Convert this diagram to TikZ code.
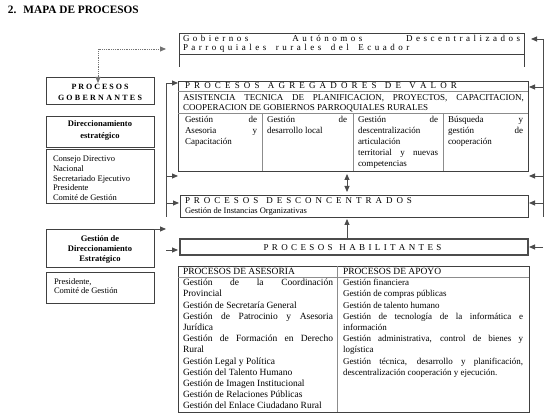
\documentclass[tikz,border=0pt]{standalone}
\usepackage{fontspec}
\setmainfont{Liberation Serif}
\usetikzlibrary{arrows.meta}
\newcommand{\jl}[2]{\makebox[#1][s]{#2}}
\newcommand{\fs}[1]{\fontsize{#1}{#1}\selectfont}
\newcommand{\lsp}{\spaceskip=3.5pt\relax\xspaceskip=3.5pt\relax}
\begin{document}
\begin{tikzpicture}[x=1pt,y=-1pt,
  every node/.style={inner sep=0pt,outer sep=0pt},
  box/.style={draw=black!75,line width=0.9pt},
  sep/.style={draw=black!45,line width=0.7pt},
  ln/.style={draw=black!70,line width=0.9pt},
  arr/.style={draw=black!70,line width=0.9pt,-{Triangle[length=6pt,width=5pt]}},
  arrtwo/.style={draw=black!70,line width=0.9pt,{Triangle[length=6pt,width=5pt]}-{Triangle[length=6pt,width=5pt]}},
  dotarr/.style={draw=black!55,line width=0.9pt,dash pattern=on 0.9pt off 0.9pt,{Triangle[length=6pt,width=5pt]}-{Triangle[length=6pt,width=5pt]}},
  tx/.style={anchor=base west,font=\fs{9}},
  ctx/.style={anchor=base,font=\bfseries\fs{8.5}},
  ltx/.style={anchor=base west,font=\fs{8.5}}]
\fill[white] (0,0) rectangle (552,419);
\useasboundingbox (0,0) rectangle (552,419);

% title
\node[anchor=base west,font=\bfseries\fs{11.3}] (title) at (8,13.7) {2.\hspace{7pt}MAPA DE PROCESOS};

% ---- GAD box
\node[box,anchor=north west,minimum width=345,minimum height=21] (gad) at (179,33) {};
\draw[box] (gad.south west) -- ++(0,13) coordinate (gadl);
\draw[box] (gad.south east) -- ++(0,13) coordinate (gadr);
\node[tx] (gad1) at (183,41.5) {\makebox[337pt]{\lsp G o b i e r n o s\hfill A u t ó n o m o s\hfill D e s c e n t r a l i z a d o s}};
\node[tx] (gad2) at (183,50.5) {\lsp P a r r o q u i a l e s\hspace{6pt} r u r a l e s\hspace{6pt} d e l\hspace{6pt} E c u a d o r};

% ---- left boxes
\node[box,anchor=north west,minimum width=108,minimum height=27] (pg) at (46,77) {};
\node[ctx,font=\bfseries\fs{8}] (pg1) at (100,89.5) {\jl{57pt}{P R O C E S O S}};
\node[ctx,font=\bfseries\fs{8}] (pg2) at (100,101) {\jl{84pt}{G O B E R N A N T E S}};

\node[box,anchor=north west,minimum width=108,minimum height=31] (de) at (46,116) {};
\node[ctx] (de1) at (100,127) {Direccionamiento};
\node[ctx] (de2) at (100,139) {estratégico};

\node[box,anchor=north west,minimum width=108,minimum height=54] (lst) at (46,149) {};
\node[ltx] (l1) at (53,161.8) {Consejo Directivo};
\node[ltx] (l2) at (53,171.5) {Nacional};
\node[ltx] (l3) at (53,181.3) {Secretariado Ejecutivo};
\node[ltx] (l4) at (53,191) {Presidente};
\node[ltx] (l5) at (53,200.8) {Comité de Gestión};

\node[box,anchor=north west,minimum width=108,minimum height=38] (gde) at (46,229) {};
\node[ctx] (g1) at (100,242) {Gestión de};
\node[ctx] (g2) at (100,252) {Direccionamiento};
\node[ctx] (g3) at (100,262) {Estratégico};

\node[box,anchor=north west,minimum width=108,minimum height=31] (pres) at (46,272) {};
\node[ltx] (p1) at (54,284.5) {Presidente,};
\node[ltx] (p2) at (54,294) {Comité de Gestión};

% ---- PAV box
\node[box,anchor=north west,minimum width=350,minimum height=90] (pav) at (178,81) {};
\draw[sep] (178,91) -- (528,91);
\draw[sep] (178,113) -- (528,113);
\draw[sep] (262,113) -- (262,171);
\draw[sep] (353,113) -- (353,171);
\draw[sep] (443,113) -- (443,171);
\node[tx] (pavt) at (185,89) {\jl{272pt}{P R O C E S O S\ \ A G R E G A D O R E S\ \ D E\ \ V A L O R}};
\node[tx] (as1) at (183,100.5) {\jl{341pt}{ASISTENCIA TECNICA DE PLANIFICACION, PROYECTOS, CAPACITACION,}};
\node[tx] (as2) at (183,111) {COOPERACION DE GOBIERNOS PARROQUIALES RURALES};
% columns
\node[tx] (c11) at (185,123) {\jl{72pt}{Gestión de}};
\node[tx] (c12) at (185,134) {\jl{72pt}{Asesoria y}};
\node[tx] (c13) at (185,145) {Capacitación};
\node[tx] (c21) at (267,123) {\jl{80pt}{Gestión de}};
\node[tx] (c22) at (267,134) {desarrollo local};
\node[tx] (c31) at (358,123) {\jl{80pt}{Gestión de}};
\node[tx] (c32) at (358,134) {descentralización};
\node[tx] (c33) at (358,145) {articulación};
\node[tx] (c34) at (358,156) {\jl{80pt}{territorial y nuevas}};
\node[tx] (c35) at (358,167) {competencias};
\node[tx] (c41) at (448,123) {\jl{75pt}{Búsqueda y}};
\node[tx] (c42) at (448,134) {\jl{75pt}{gestión de}};
\node[tx] (c43) at (448,145) {cooperación};

% ---- PD box
\node[box,anchor=north west,minimum width=348,minimum height=22] (pd) at (180,195) {};
\node[tx] (pdt) at (185,203.5) {\jl{227pt}{P R O C E S O S\ \ D E S C O N C E N T R A D O S}};
\node[tx,font=\fs{8.5}] (pd2) at (185,213.5) {Gestión de Instancias Organizativas};

% ---- PH box
\node[draw=black!70,line width=1.6pt,anchor=north west,minimum width=348,minimum height=16] (ph) at (180,239) {};
\node[tx] (pht) at (263.5,250.2) {\jl{178pt}{P R O C E S O S\ \ H A B I L I T A N T E S}};

% ---- bottom table
\node[box,anchor=north west,minimum width=351,minimum height=146] (tab) at (178,266) {};
\draw[sep] (178,277) -- (529,277);
\draw[sep] (337,266) -- (337,412);
\node[tx,font=\fs{9.5}] (h1) at (183,275) {PROCESOS DE ASESORIA};
\node[tx,font=\fs{9.5}] (h2) at (343,275) {PROCESOS DE APOYO};
\foreach \t [count=\i from 0] in {{\jl{150pt}{Gestión de la Coordinación}},Provincial,Gestión de Secretaría General,{\jl{150pt}{Gestión de Patrocinio y Asesoria}},Jurídica,{\jl{150pt}{Gestión de Formación en Derecho}},Rural,Gestión Legal y Política,Gestión del Talento Humano,Gestión de Imagen Institucional,Gestión de Relaciones Públicas,Gestión del Enlace Ciudadano Rural}
  \node[tx,font=\fs{9.5}] (a\i) at (183,285.8+11.2*\i) {\t};
\foreach \t [count=\i from 0] in {Gestión financiera,Gestión de compras públicas,Gestión de talento humano,{\jl{180pt}{Gestión de tecnología de la informática e}},información,{\jl{180pt}{Gestión administrativa, control de bienes y}},logística,{\jl{180pt}{Gestión técnica, desarrollo y planificación,}},descentralización cooperación y ejecución.}
  \node[tx,font=\fs{9}] (b\i) at (343,285.8+11.2*\i) {\t};

% ---- connectors
\coordinate (dc) at (98,49);
\draw[dotarr] ([yshift=-6pt]pg.north -| dc) -- (dc) -- ([xshift=-13pt]gad.west |- dc);

\coordinate (ra) at (543,39);
\coordinate (rb) at (543,217);
\draw[ln] (ra) -- (rb);
\draw[arr] (ra) -- ([xshift=7pt]gad.east |- ra);
\coordinate (rc) at (543,87);
\draw[arr] (rc) -- ([xshift=1pt]pav.east |- rc);
\coordinate (rd) at (543,176);
\draw[arr] (rd) -- ([xshift=1pt]pav.east |- rd);
\coordinate (re) at (543,203);
\draw[arr] (re) -- ([xshift=1pt]pd.east |- re);
\coordinate (rf) at (543,247);
\draw[arr] (rf) -- ([xshift=1pt]ph.east |- rf);

\coordinate (la) at (166,83);
\coordinate (lb) at (166,217);
\draw[ln] (lb) -- (la);
\draw[arr] (la) -- (pav.west |- la);
\coordinate (lc) at (166,176);
\draw[arr] (lc) -- ([xshift=-2pt]pd.west |- lc);
\coordinate (ld) at (166,203);
\draw[arr] (ld) -- ([xshift=-1pt]pd.west |- ld);
\coordinate (le) at (166,229);
\draw[arr] (gde.north east) -- (le);
\coordinate (lf) at (166,250);
\draw[arr] (lf) -- ([xshift=-2pt]ph.west |- lf);

\coordinate (m1) at (347,174);
\coordinate (m2) at (347,192);
\draw[arrtwo] (m1) -- (m2);
\draw[arr,shorten >=2pt] (ph.north -| m1) -- (pd.south -| m1);
\end{tikzpicture}
\end{document}
